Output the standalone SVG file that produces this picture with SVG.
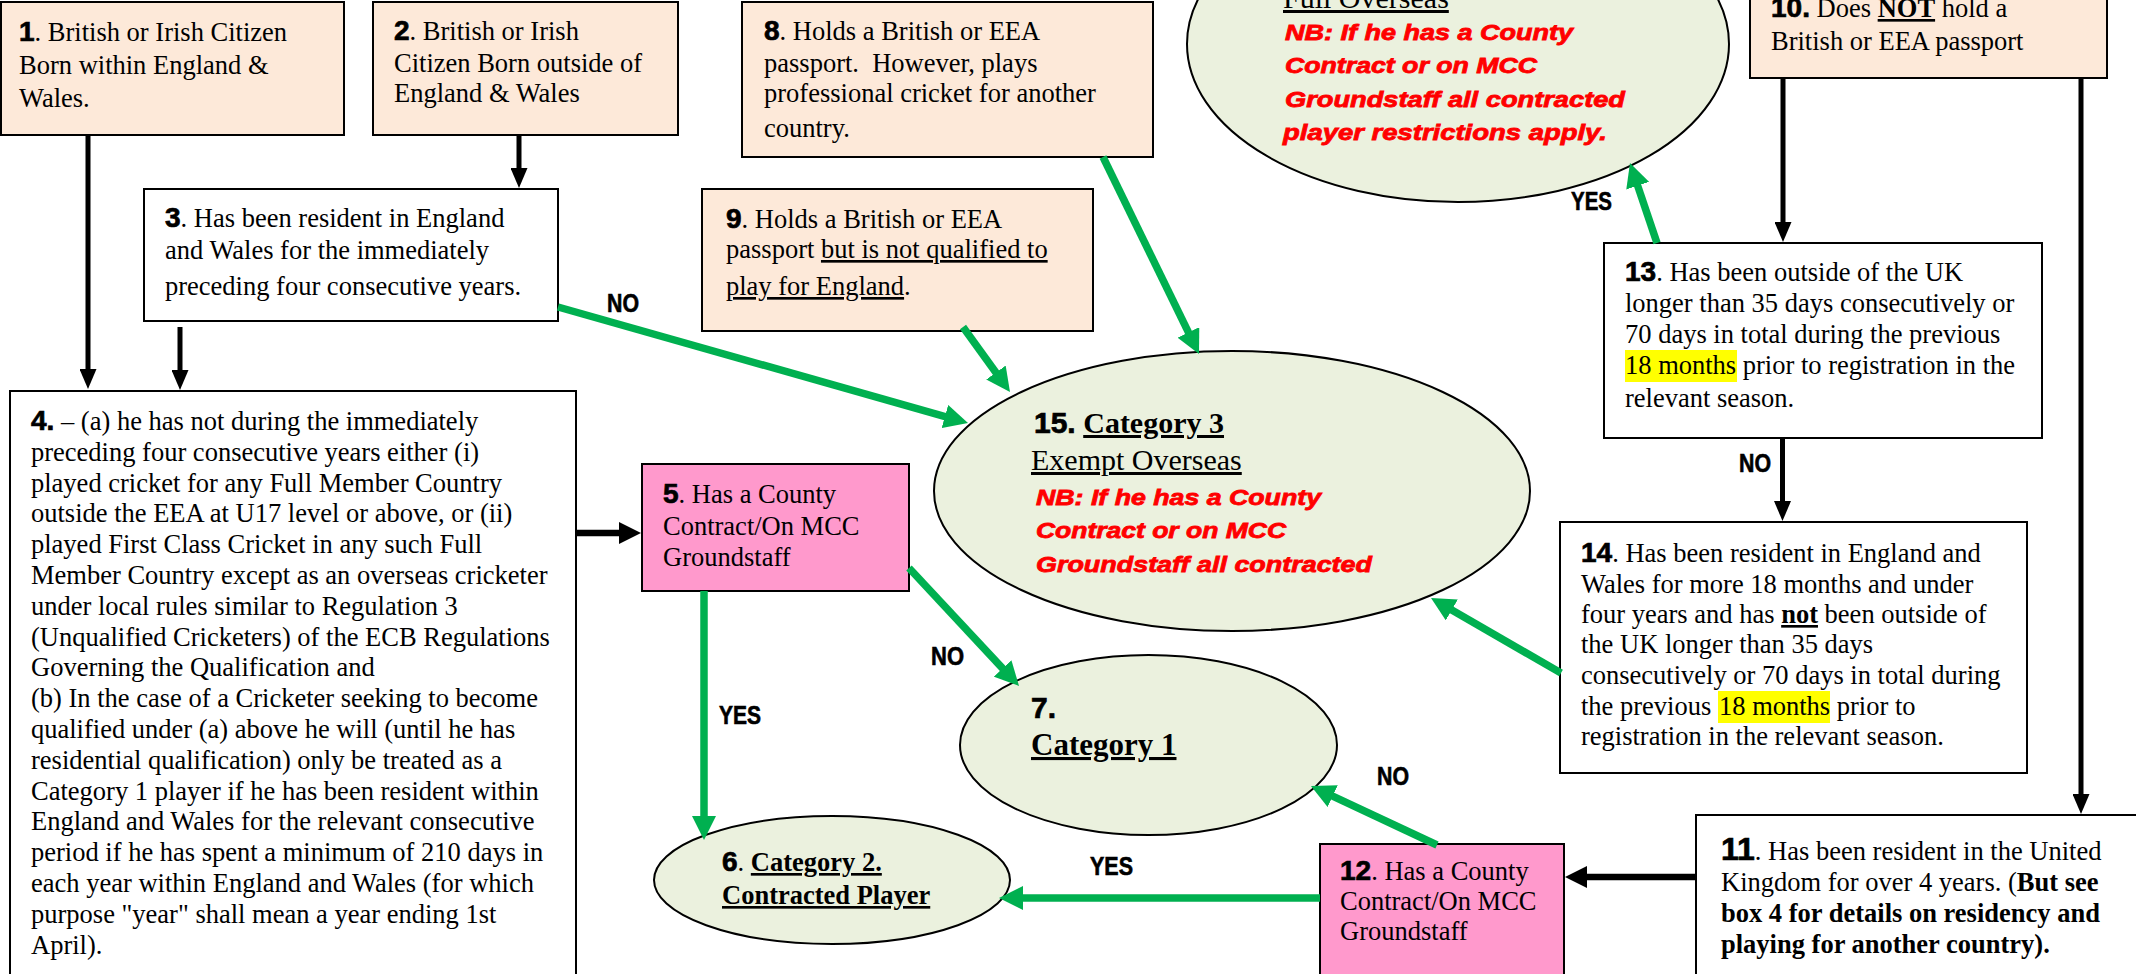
<svg xmlns="http://www.w3.org/2000/svg" width="2136" height="974" viewBox="0 0 2136 974">
<style>
.box{stroke:#000;stroke-width:2}
.peach{fill:#FDE9D9}
.pink{fill:#FF99CC}
.white{fill:#FFFFFF}
.ell{fill:#EBF1DE;stroke:#000;stroke-width:2}
.t{font-family:"Liberation Serif","Times New Roman",serif;font-size:26.5px;fill:#000}
.n{font-family:"Liberation Sans",Arial,sans-serif;font-weight:bold;font-size:28px;stroke:#000;stroke-width:0.7}
.b{font-weight:bold}
.u{text-decoration:underline}
.red{font-family:"Liberation Sans",Arial,sans-serif;font-weight:bold;font-style:italic;font-size:22px;fill:#FF0000;stroke:#FF0000;stroke-width:0.8}
.lbl{font-family:"Liberation Sans Narrow","Liberation Sans",Arial,sans-serif;font-weight:bold;font-size:25px;fill:#000;stroke:#000;stroke-width:0.6}
.g{stroke:#00B050;stroke-width:7.5;fill:none;marker-end:url(#ga)}
.k{stroke:#000;stroke-width:5;fill:none;marker-end:url(#ka)}
.kk{stroke:#000;stroke-width:6.5;fill:none;marker-end:url(#kb)}
.hl{fill:#FFFF00}
</style>
<defs>
<marker id="ga" markerUnits="userSpaceOnUse" markerWidth="24" markerHeight="24" refX="3" refY="12" orient="auto"><path d="M0,0 L24,12 L0,24 z" fill="#00B050"/></marker>
<marker id="ka" markerUnits="userSpaceOnUse" markerWidth="20" markerHeight="17" refX="3" refY="8.5" orient="auto"><path d="M0,0 L20,8.5 L0,17 z" fill="#000"/></marker>
<marker id="kb" markerUnits="userSpaceOnUse" markerWidth="22" markerHeight="22" refX="3" refY="11" orient="auto"><path d="M0,0 L22,11 L0,22 z" fill="#000"/></marker>
</defs>
<rect width="2136" height="974" fill="#FFFFFF"/>

<g id="node16">
<ellipse class="ell" cx="1458" cy="44" rx="271" ry="158"/>
<text class="t u" x="1283" y="8" style="font-size:30px">Full Overseas</text>
<text class="red" x="1285" y="40" textLength="288" lengthAdjust="spacingAndGlyphs">NB: If he has a County</text>
<text class="red" x="1285" y="73" textLength="252" lengthAdjust="spacingAndGlyphs">Contract or on MCC</text>
<text class="red" x="1285" y="107" textLength="340" lengthAdjust="spacingAndGlyphs">Groundstaff all contracted</text>
<text class="red" x="1283" y="140" textLength="324" lengthAdjust="spacingAndGlyphs">player restrictions apply.</text>
</g>

<g id="node1">
<rect class="box peach" x="1" y="2" width="343" height="133"/>
<text class="t" x="19" y="41"><tspan class="n">1</tspan>. British or Irish Citizen</text>
<text class="t" x="19" y="74">Born within England &amp;</text>
<text class="t" x="19" y="107">Wales.</text>
</g>

<g id="node2">
<rect class="box peach" x="373" y="2" width="305" height="133"/>
<text class="t" x="394" y="40"><tspan class="n">2</tspan>. British or Irish</text>
<text class="t" x="394" y="72">Citizen Born outside of</text>
<text class="t" x="394" y="102">England &amp; Wales</text>
</g>

<g id="node3">
<rect class="box white" x="144" y="189" width="414" height="132"/>
<text class="t" x="165" y="227"><tspan class="n">3</tspan>. Has been resident in England</text>
<text class="t" x="165" y="259">and Wales for the immediately</text>
<text class="t" x="165" y="295">preceding four consecutive years.</text>
</g>

<g id="node8">
<rect class="box peach" x="742" y="2" width="411" height="155"/>
<text class="t" x="764" y="40"><tspan class="n">8</tspan>. Holds a British or EEA</text>
<text class="t" x="764" y="72">passport.&#160; However, plays</text>
<text class="t" x="764" y="102">professional cricket for another</text>
<text class="t" x="764" y="137">country.</text>
</g>

<g id="node9">
<rect class="box peach" x="702" y="189" width="391" height="142"/>
<text class="t" x="726" y="228"><tspan class="n">9</tspan>. Holds a British or EEA</text>
<text class="t" x="726" y="258">passport <tspan class="u">but is not qualified to</tspan></text>
<text class="t" x="726" y="295"><tspan class="u">play for England</tspan>.</text>
</g>

<g id="node10">
<rect class="box peach" x="1750" y="-10" width="357" height="88"/>
<text class="t" x="1771" y="17"><tspan class="n">10.</tspan> Does <tspan class="b u">NOT</tspan> hold a</text>
<text class="t" x="1771" y="50">British or EEA passport</text>
</g>

<g id="node4">
<rect class="box white" x="10" y="391" width="566" height="600"/>
<text class="t" x="31" y="430"><tspan class="n">4.</tspan> – (a) he has not during the immediately</text>
<text class="t" x="31" y="460.8">preceding four consecutive years either (i)</text>
<text class="t" x="31" y="491.6">played cricket for any Full Member Country</text>
<text class="t" x="31" y="522.4">outside the EEA at U17 level or above, or (ii)</text>
<text class="t" x="31" y="553.2">played First Class Cricket in any such Full</text>
<text class="t" x="31" y="584">Member Country except as an overseas cricketer</text>
<text class="t" x="31" y="614.8">under local rules similar to Regulation 3</text>
<text class="t" x="31" y="645.6">(Unqualified Cricketers) of the ECB Regulations</text>
<text class="t" x="31" y="676.4">Governing the Qualification and</text>
<text class="t" x="31" y="707.2">(b) In the case of a Cricketer seeking to become</text>
<text class="t" x="31" y="738">qualified under (a) above he will (until he has</text>
<text class="t" x="31" y="768.8">residential qualification) only be treated as a</text>
<text class="t" x="31" y="799.6">Category 1 player if he has been resident within</text>
<text class="t" x="31" y="830.4">England and Wales for the relevant consecutive</text>
<text class="t" x="31" y="861.2">period if he has spent a minimum of 210 days in</text>
<text class="t" x="31" y="892">each year within England and Wales (for which</text>
<text class="t" x="31" y="922.8">purpose "year" shall mean a year ending 1st</text>
<text class="t" x="31" y="953.6">April).</text>
</g>

<g id="node5">
<rect class="box pink" x="642" y="464" width="267" height="127"/>
<text class="t" x="663" y="503"><tspan class="n">5</tspan>. Has a County</text>
<text class="t" x="663" y="535">Contract/On MCC</text>
<text class="t" x="663" y="566">Groundstaff</text>
</g>

<g id="node15">
<ellipse class="ell" cx="1232" cy="491" rx="298" ry="140"/>
<text class="t" x="1034" y="433" style="font-size:30px"><tspan class="n" style="font-size:30px">15.</tspan> <tspan class="b u">Category 3</tspan></text>
<text class="t u" x="1031" y="470" style="font-size:30px"> Exempt Overseas</text>
<text class="red" x="1036" y="505" textLength="285" lengthAdjust="spacingAndGlyphs">NB: If he has a County</text>
<text class="red" x="1036" y="538" textLength="250" lengthAdjust="spacingAndGlyphs">Contract or on MCC</text>
<text class="red" x="1036" y="572" textLength="336" lengthAdjust="spacingAndGlyphs">Groundstaff all contracted</text>
</g>

<g id="node7">
<ellipse class="ell" cx="1148.5" cy="745" rx="188.5" ry="90"/>
<text class="n" x="1031" y="718" style="font-size:30px">7.</text>
<text class="t b u" x="1031" y="755" style="font-size:31px">Category 1</text>
</g>

<g id="node6">
<ellipse class="ell" cx="832" cy="880" rx="178" ry="64"/>
<text class="t" x="722" y="871"><tspan class="n">6</tspan>. <tspan class="b u">Category 2.</tspan></text>
<text class="t b u" x="722" y="904">Contracted Player</text>
</g>

<g id="node13">
<rect class="box white" x="1604" y="243" width="438" height="195"/>
<rect class="hl" x="1625" y="350" width="112" height="32"/>
<text class="t" x="1625" y="281"><tspan class="n">13</tspan>. Has been outside of the UK</text>
<text class="t" x="1625" y="312">longer than 35 days consecutively or</text>
<text class="t" x="1625" y="343">70 days in total during the previous</text>
<text class="t" x="1625" y="374">18 months prior to registration in the</text>
<text class="t" x="1625" y="407">relevant season.</text>
</g>

<g id="node14">
<rect class="box white" x="1560" y="522" width="467" height="251"/>
<rect class="hl" x="1718" y="691" width="112" height="32"/>
<text class="t" x="1581" y="562"><tspan class="n">14</tspan>. Has been resident in England and</text>
<text class="t" x="1581" y="593">Wales for more 18 months and under</text>
<text class="t" x="1581" y="623">four years and has <tspan class="b u">not</tspan> been outside of</text>
<text class="t" x="1581" y="653">the UK longer than 35 days</text>
<text class="t" x="1581" y="684">consecutively or 70 days in total during</text>
<text class="t" x="1581" y="715">the previous <tspan x="1719">18 months</tspan> prior to</text>
<text class="t" x="1581" y="745">registration in the relevant season.</text>
</g>

<g id="node11">
<rect class="box white" x="1696" y="815" width="450" height="200"/>
<text class="t" x="1721" y="860"><tspan class="n" style="font-size:32px">11</tspan>. Has been resident in the United</text>
<text class="t" x="1721" y="891">Kingdom for over 4 years. (<tspan class="b">But see</tspan></text>
<text class="t b" x="1721" y="922">box 4 for details on residency and</text>
<text class="t b" x="1721" y="953">playing for another country).</text>
</g>

<g id="node12">
<rect class="box pink" x="1320" y="844" width="244" height="200"/>
<text class="t" x="1340" y="880"><tspan class="n">12</tspan>. Has a County</text>
<text class="t" x="1340" y="910">Contract/On MCC</text>
<text class="t" x="1340" y="940">Groundstaff</text>
</g>

<g id="connectors">
<line class="k" x1="88" y1="135" x2="88" y2="372"/>
<line class="k" x1="180" y1="327" x2="180" y2="373"/>
<line class="k" x1="519" y1="135" x2="519" y2="171"/>
<line class="kk" x1="576" y1="533" x2="622" y2="533"/>
<line class="k" x1="1783" y1="78" x2="1783" y2="225"/>
<line class="k" x1="1782.5" y1="438" x2="1782.5" y2="504"/>
<line class="k" x1="2081" y1="78" x2="2081" y2="797"/>
<line class="kk" x1="1696" y1="877" x2="1584" y2="877"/>
<line class="g" x1="558" y1="307" x2="947.8" y2="417.3"/>
<line class="g" x1="963" y1="327" x2="997.7" y2="375"/>
<line class="g" x1="1103" y1="157" x2="1189.8" y2="335.1"/>
<line class="g" x1="1657" y1="243" x2="1636.7" y2="182.9"/>
<line class="g" x1="1561" y1="673" x2="1449.2" y2="608.5"/>
<line class="g" x1="909" y1="568" x2="1004.7" y2="670.6"/>
<line class="g" x1="704" y1="591" x2="704" y2="819"/>
<line class="g" x1="1320" y1="898" x2="1020" y2="898"/>
<line class="g" x1="1437" y1="845" x2="1330" y2="794.9"/>
<text class="lbl" x="607" y="312" textLength="32" lengthAdjust="spacingAndGlyphs">NO</text>
<text class="lbl" x="1571" y="210" textLength="41" lengthAdjust="spacingAndGlyphs">YES</text>
<text class="lbl" x="1739" y="472" textLength="32" lengthAdjust="spacingAndGlyphs">NO</text>
<text class="lbl" x="931" y="665" textLength="33" lengthAdjust="spacingAndGlyphs">NO</text>
<text class="lbl" x="719" y="724" textLength="42" lengthAdjust="spacingAndGlyphs">YES</text>
<text class="lbl" x="1090" y="875" textLength="43" lengthAdjust="spacingAndGlyphs">YES</text>
<text class="lbl" x="1377" y="785" textLength="32" lengthAdjust="spacingAndGlyphs">NO</text>
</g>
</svg>
